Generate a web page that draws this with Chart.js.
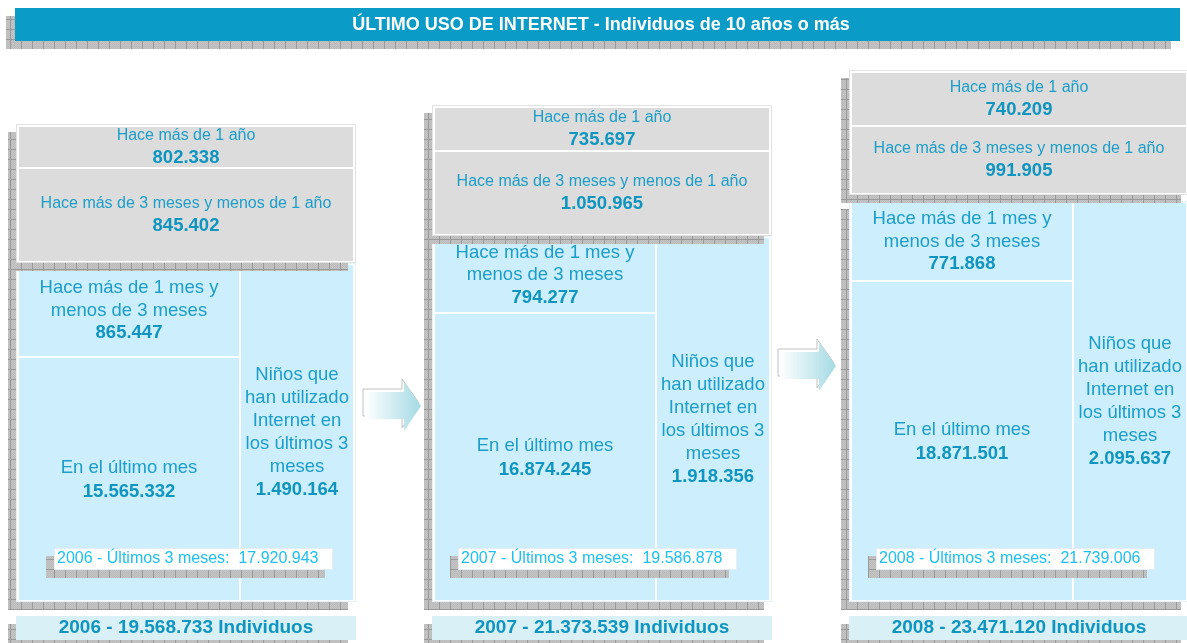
<!DOCTYPE html>
<html>
<head>
<meta charset="utf-8">
<title>Último uso de Internet</title>
<script src="https://cdn.jsdelivr.net/npm/chart.js@4.4.0/dist/chart.umd.min.js"></script>
<style>
  html, body { margin: 0; padding: 0; background: #fff; overflow: hidden; }
  #wrap { position: relative; width: 1187px; height: 643px; }
</style>
</head>
<body>
<div id="wrap"><canvas id="chart" width="1187" height="643"></canvas></div>
<script>
// --- datos ---
const titulo = "ÚLTIMO USO DE INTERNET - Individuos de 10 años o más";
const anios = ["2006", "2007", "2008"];
const haceMasUnAnio = [802338, 735697, 740209];
const tresMesesAUnAnio = [845402, 1050965, 991905];
const unMesATresMeses = [865447, 794277, 771868];
const enElUltimoMes = [15565332, 16874245, 18871501];
const ninosTresMeses = [1490164, 1918356, 2095637];
const ultimosTresMeses = [17920943, 19586878, 21739006];
const totalIndividuos = [19568733, 21373539, 23471120];

// --- disposición de cada panel (unidades de las escalas) ---
const panelX = [16, 432, 849];
const grisArriba = [124, 105, 70];
const gris1Abajo = [167, 150, 125];
const grisAbajo = [263, 236, 195];
const azulArriba = [263, 236, 201];
const corteIzq = [356, 312, 280];
const azulAbajo = 602;
const cajaTotalX = [54, 458, 876];
const flechas = [{ x: 365, y: 406 }, { x: 780, y: 366 }];

const FONT = '"Liberation Sans", Arial, Helvetica, sans-serif';
const colTexto = "#1b9ec9";
const colNumero = "#0f95c0";
const colGris = "#dcdcdc";
const colAzul = "#cdeefd";
const colPie = "#d8f0f6";
const colTitulo = "#0a9bc6";

const fmt = (n) => String(n).replace(/\B(?=(\d{3})+(?!\d))/g, ".");

function makeHatch() {
  const c = document.createElement("canvas");
  c.width = 11; c.height = 10;
  const g = c.getContext("2d");
  g.fillStyle = "#c4c4c4"; g.fillRect(0, 0, 11, 10);
  g.fillStyle = "#bbbbbb";
  for (let y = 0; y < 10; y++) for (let x = y % 2; x < 11; x += 2) g.fillRect(x, y, 1, 1);
  g.fillStyle = "#9a9a9a";
  g.fillRect(10, 0, 1, 10);
  g.fillRect(0, 9, 11, 1);
  return g.createPattern(c, "repeat");
}
const hatch = makeHatch();

// rectangles painted back to front
const rects = [];
const celdas = [];
const rect = (x0, x1, y0, y1, color) => rects.push({ x0, x1, y0, y1, color });

// title bar
rect(6, 1171, 16, 49, hatch);
rect(15, 1180, 8, 41, colTitulo);

anios.forEach((anio, i) => {
  const L = panelX[i];
  // blue box
  rect(L - 8, L + 332, azulArriba[i] + 8, azulAbajo + 8, hatch);
  rect(L, L + 340, azulArriba[i], azulAbajo, "#e6f2f6");
  rect(L + 1, L + 339, azulArriba[i] + 1, azulAbajo - 1, "#ffffff");
  const c1 = { x0: L + 3, x1: L + 223, y0: azulArriba[i] + 2, y1: corteIzq[i], label: "Hace más de 1 mes y menos de 3 meses", value: unMesATresMeses[i], size: 18.5, step: 22.5 };
  const c2 = { x0: L + 3, x1: L + 223, y0: corteIzq[i] + 2, y1: azulAbajo - 2, label: "En el último mes", value: enElUltimoMes[i], size: 18.5, step: 24, dy: 1 };
  const c3 = { x0: L + 225, x1: L + 337, y0: azulArriba[i] + 2, y1: azulAbajo - 2, label: "Niños que han utilizado Internet en los últimos 3 meses", value: ninosTresMeses[i], size: 18.5, step: 23 };
  [c1, c2, c3].forEach((c) => { rect(c.x0, c.x1, c.y0, c.y1, colAzul); celdas.push(c); });

  // grey box
  rect(L - 8, L + 332, grisArriba[i] + 8, grisAbajo[i] + 8, hatch);
  rect(L, L + 340, grisArriba[i], grisAbajo[i], "#e2e2e2");
  rect(L + 1, L + 339, grisArriba[i] + 1, grisAbajo[i] - 1, "#ffffff");
  const g1 = { x0: L + 3, x1: L + 337, y0: grisArriba[i] + 3, y1: gris1Abajo[i], label: "Hace más de 1 año", value: haceMasUnAnio[i], size: 16, step: 22 };
  const g2 = { x0: L + 3, x1: L + 337, y0: gris1Abajo[i] + 2, y1: grisAbajo[i] - 2, label: "Hace más de 3 meses y menos de 1 año", value: tresMesesAUnAnio[i], size: 16, step: 22 };
  [g1, g2].forEach((c) => { rect(c.x0, c.x1, c.y0, c.y1, colGris); celdas.push(c); });

  // 3-month total box
  const B = cajaTotalX[i];
  rect(B - 8, B + 271, 556, 578, hatch);
  rect(B, B + 279, 548, 570, "#e4eef2");
  rect(B + 1, B + 278, 549, 569, "#ffffff");

  // footer
  rect(L - 8, L + 332, 624, 648, hatch);
  rect(L, L + 340, 616, 640, colPie);
});

const datasets = rects.map((r, k) => ({
  type: "line",
  data: [{ x: r.x0, y: r.y0 }, { x: r.x1, y: r.y0 }],
  fill: { value: r.y1 },
  backgroundColor: r.color,
  borderColor: "transparent",
  borderWidth: 0,
  pointRadius: 0,
  pointHoverRadius: 0,
  order: rects.length - k
}));

function wrap(ctx, text, maxW) {
  const words = text.split(" ");
  const lines = [];
  let cur = "";
  for (const w of words) {
    const t = cur ? cur + " " + w : w;
    if (cur && ctx.measureText(t).width > maxW) { lines.push(cur); cur = w; }
    else cur = t;
  }
  if (cur) lines.push(cur);
  return lines;
}

const textos = {
  id: "textos",
  afterDatasetsDraw(chart) {
    const { ctx, scales: { x, y } } = chart;
    const px = (v) => x.getPixelForValue(v);
    const py = (v) => y.getPixelForValue(v);
    ctx.save();
    ctx.textBaseline = "middle";

    // arrows
    flechas.forEach((f) => {
      const path = (ox, oy) => {
        ctx.beginPath();
        ctx.moveTo(px(f.x + ox), py(f.y - 14 + oy));
        ctx.lineTo(px(f.x + 39 + ox), py(f.y - 14 + oy));
        ctx.lineTo(px(f.x + 39 + ox), py(f.y - 24 + oy));
        ctx.lineTo(px(f.x + 56 + ox), py(f.y + oy));
        ctx.lineTo(px(f.x + 39 + ox), py(f.y + 25 + oy));
        ctx.lineTo(px(f.x + 39 + ox), py(f.y + 13 + oy));
        ctx.lineTo(px(f.x + ox), py(f.y + 13 + oy));
        ctx.closePath();
      };
      path(-2, -3);
      ctx.strokeStyle = "#c2c2c2";
      ctx.lineWidth = 1;
      ctx.stroke();
      const grad = ctx.createLinearGradient(px(f.x), 0, px(f.x + 56), 0);
      grad.addColorStop(0, "#ffffff");
      grad.addColorStop(1, "#a4dae4");
      path(0, 0);
      ctx.fillStyle = grad;
      ctx.fill();
    });

    // title
    ctx.textAlign = "center";
    ctx.fillStyle = "#ffffff";
    ctx.font = "bold 18px " + FONT;
    ctx.fillText(titulo, px(601), py(25));

    // cells
    celdas.forEach((c) => {
      ctx.font = c.size + "px " + FONT;
      const lines = wrap(ctx, c.label, px(c.x1) - px(c.x0) - 4);
      const n = lines.length + 1;
      const cx = px((c.x0 + c.x1) / 2);
      let cy = py((c.y0 + c.y1) / 2 + (c.dy || 0)) - (n - 1) * c.step / 2;
      ctx.textAlign = "center";
      ctx.fillStyle = colTexto;
      lines.forEach((l) => { ctx.fillText(l, cx, cy); cy += c.step; });
      ctx.font = "bold 18.5px " + FONT;
      ctx.fillStyle = colNumero;
      ctx.fillText(fmt(c.value), cx, cy);
    });

    anios.forEach((anio, i) => {
      const L = panelX[i];
      ctx.textAlign = "left";
      ctx.font = "16px " + FONT;
      ctx.fillStyle = "#1ec0ef";
      ctx.fillText(anio + " - Últimos 3 meses:  " + fmt(ultimosTresMeses[i]), px(cajaTotalX[i] + 3), py(559));
      ctx.textAlign = "center";
      ctx.font = "bold 19px " + FONT;
      ctx.fillStyle = colNumero;
      ctx.fillText(anio + " - " + fmt(totalIndividuos[i]) + " Individuos", px(L + 170), py(628));
    });
    ctx.restore();
  }
};

new Chart(document.getElementById("chart"), {
  type: "line",
  data: { datasets },
  options: {
    responsive: false,
    animation: false,
    events: [],
    layout: { padding: 0, autoPadding: false },
    plugins: { legend: { display: false }, tooltip: { enabled: false }, title: { display: false } },
    scales: {
      x: { type: "linear", min: 0, max: 1187, display: false },
      y: { type: "linear", min: 0, max: 643, reverse: true, display: false }
    }
  },
  plugins: [textos]
});
</script>
</body>
</html>
